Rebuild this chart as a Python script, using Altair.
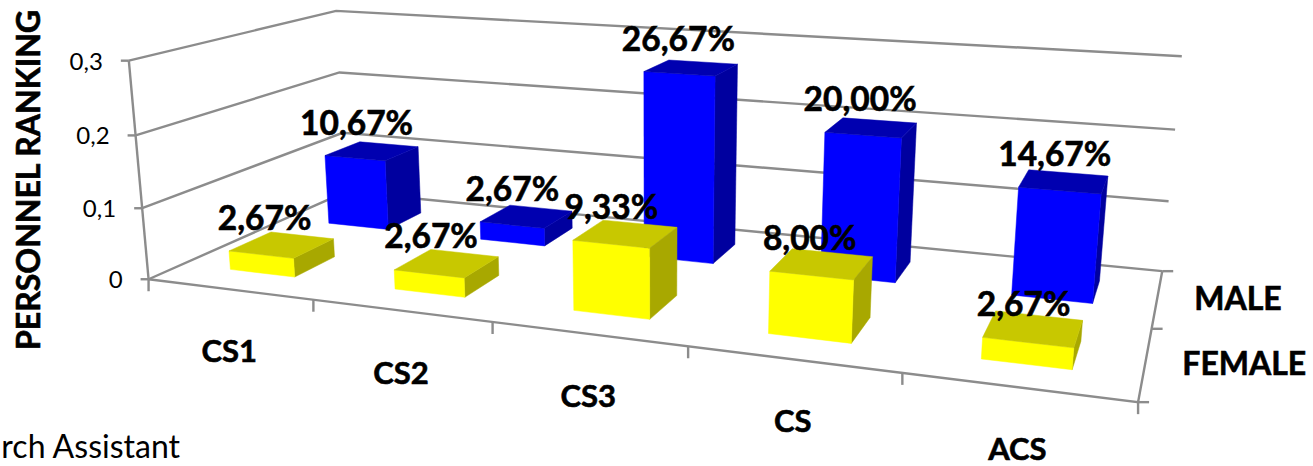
import altair as alt
import numpy as np

# Chart content
categories = ["CS1", "CS2", "CS3", "CS", "ACS"]
series = ["FEMALE", "MALE"]
female = [2.67, 2.67, 9.33, 8.00, 2.67]
male = [10.67, 2.67, 26.67, 20.00, 14.67]
value_ticks = [0, 0.1, 0.2, 0.3]
value_tick_labels = ["0", "0,1", "0,2", "0,3"]

# Camera: a projective map from (category, series depth, value) to the page,
# solved from where the box corners and category ticks should land.
camera_points = [
    ((0, 0, 0), (148, 279)), ((1, 0, 0), (313, 298)), ((2, 0, 0), (492, 323)),
    ((3, 0, 0), (688, 347)), ((4, 0, 0), (903, 373)), ((5, 0, 0), (1138, 402)),
    ((0, 2, 0), (347, 193)), ((5, 2, 0), (1162, 270)),
    ((0, 0, 0.3), (130, 61)), ((0, 2, 0.3), (335, 10)), ((5, 2, 0.3), (1182, 57)),
]
rows = []
for (a, b, c), (u, v) in camera_points:
    rows.append([a, b, c, 1, 0, 0, 0, 0, -u * a, -u * b, -u * c, -u])
    rows.append([0, 0, 0, 0, a, b, c, 1, -v * a, -v * b, -v * c, -v])
P = np.linalg.svd(np.array(rows, float))[2][-1].reshape(3, 4)


def project(i, d, v):
    h = P @ np.array([i, d, v, 1.0])
    return [float(h[0] / h[2]), float(h[1] / h[2])]


def polygon(fill, *corners):
    ring = [project(*c) for c in corners]
    ring.append(ring[0])
    return {"type": "Feature", "properties": {"fill": fill},
            "geometry": {"type": "Polygon", "coordinates": [ring]}}


def line(*points):
    return {"type": "Feature", "properties": {},
            "geometry": {"type": "LineString", "coordinates": points}}


BAR_W, BAR_D = 0.40, 0.40
SHADES = {
    "MALE": ("#0000ff", "#0000b0", "#00009f"),
    "FEMALE": ("#ffff00", "#c8c800", "#a8a800"),
}

faces, labels = [], []
for depth, name, values in [(1, "MALE", male), (0, "FEMALE", female)]:
    for i, pct in enumerate(values):
        v = pct / 100
        i0, i1 = i + 0.5 - BAR_W / 2, i + 0.5 + BAR_W / 2
        d0, d1 = depth + 0.5 - BAR_D / 2, depth + 0.5 + BAR_D / 2
        front, top, side = SHADES[name]
        faces.append(polygon(side, (i1, d0, 0), (i1, d1, 0), (i1, d1, v), (i1, d0, v)))
        faces.append(polygon(front, (i0, d0, 0), (i1, d0, 0), (i1, d0, v), (i0, d0, v)))
        faces.append(polygon(top, (i0, d0, v), (i1, d0, v), (i1, d1, v), (i0, d1, v)))
        x, y = project(i + 0.5, depth + 0.4, v)
        labels.append({"x": x, "y": y, "text": f"{pct:.2f}".replace(".", ",") + "%"})

# Box outline, gridlines and tick marks
grid = []
for v in value_ticks:
    grid.append(line(project(0, 0, v), project(0, 2, v), project(5, 2, v)))
    x, y = project(0, 0, v)
    grid.append(line([x - 8, y], [x, y]))
grid.append(line(project(0, 0, 0), project(0, 0, 0.3)))
grid.append(line(project(0, 0, 0), project(5, 0, 0), project(5, 2, 0)))
for i in range(6):
    x, y = project(i, 0, 0)
    grid.append(line([x, y], [x, y + 12]))
for d in range(3):
    x, y = project(5, d, 0)
    grid.append(line([x, y], [x + 11, y]))

tick_text = [{"x": project(0, 0, v)[0] - 26, "y": project(0, 0, v)[1] + 2, "text": t}
             for v, t in zip(value_ticks, value_tick_labels)]
cat_text = [{"x": project(i + 0.5, 0, 0)[0], "y": project(i + 0.5, 0, 0)[1], "text": c}
            for i, c in enumerate(categories)]
series_text = [{"x": project(5, d + 0.5, 0)[0], "y": project(5, d + 0.5, 0)[1], "text": s}
               for d, s in enumerate(series)]

projection = alt.Projection(type="identity", scale=1, translate=[0, 0])
FONT = "Lato"


def text_layer(rows_, **kw):
    return alt.Chart(alt.Data(values=rows_)).mark_text(font=FONT, color="black", **kw).encode(
        longitude="x:Q", latitude="y:Q", text="text:N")


grid_layer = alt.Chart(alt.Data(values=grid)).mark_geoshape(
    filled=False, stroke="#8c8c8c", strokeWidth=2.4)
bar_layer = alt.Chart(alt.Data(values=faces)).mark_geoshape(strokeWidth=0.5).encode(
    fill=alt.Fill("properties.fill:N", scale=None),
    stroke=alt.Stroke("properties.fill:N", scale=None))

heavy = dict(fontWeight="bold", stroke="black", strokeWidth=0.6)

chart = alt.layer(
    grid_layer,
    bar_layer,
    text_layer(labels, fontSize=33.5, dy=-30, dx=-7, **heavy),
    text_layer(tick_text, fontSize=24, align="right"),
    text_layer(cat_text, fontSize=31, dy=64, **heavy),
    text_layer(series_text, fontSize=32, align="left", dx=37, dy=1.5, **heavy),
    text_layer([{"x": 30, "y": 180, "text": "PERSONNEL RANKING"}],
               fontSize=32, angle=270, **heavy),
    text_layer([{"x": 180, "y": 448, "text": "rch Assistant"}],
               fontSize=32, align="right"),
    projection=projection,
).properties(width=1313, height=466, padding=0, autosize="none").configure_view(stroke=None)

chart.save("out.html", embed_options={"renderer": "svg", "actions": False})
